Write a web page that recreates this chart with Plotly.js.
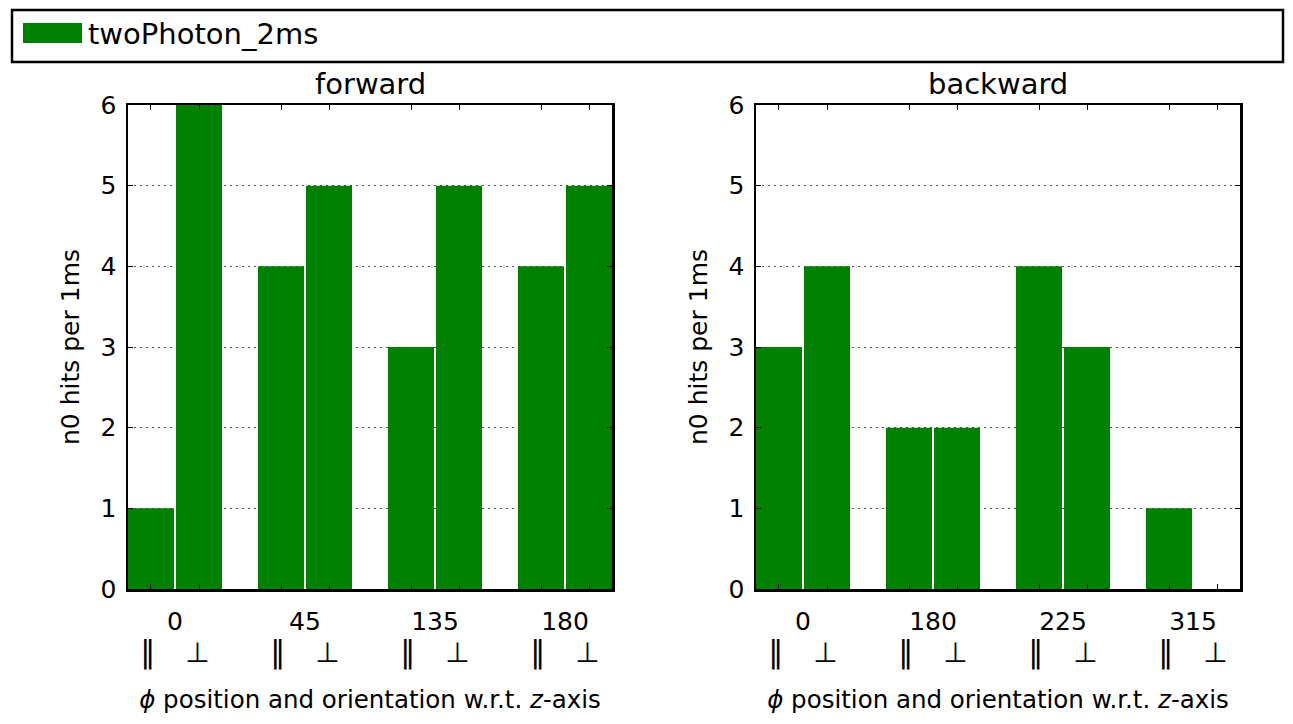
<!DOCTYPE html>
<html>
<head>
<meta charset="utf-8">
<script src="https://cdn.plot.ly/plotly-3.0.1.min.js"></script>
<style>html,body{margin:0;padding:0;background:#fff;}#chart{width:1293px;height:724px;}</style>
</head>
<body>
<div id="chart"></div>
<script>
// ---- data ----
const seriesName = 'twoPhoton_2ms';
const forwardPhi = ['0', '45', '135', '180'];
const forwardParallel = [1, 4, 3, 4];
const forwardPerp = [6, 5, 5, 5];
const backwardPhi = ['0', '180', '225', '315'];
const backwardParallel = [3, 2, 4, 1];
const backwardPerp = [4, 2, 3, 0];
const orientationLabels = ['‖', '⊥'];
const panelTitles = ['forward', 'backward'];

// ---- style ----
const GREEN = '#008000';
const FONT = 'DejaVu Sans, Liberation Sans, sans-serif';
const W = 1293, H = 724;
const BARGAP = 0.2615, BARGROUPGAP = 0.0417;

function groupIdx(arr) { return arr.map((_, i) => i); }
function barCenters(arr) {
  const half = (1 - BARGAP) / 4;
  const out = [];
  arr.forEach((_, i) => { out.push(i - half, i + half); });
  return out;
}
function tickTexts(phi) {
  return phi.map(p => p + '<br><span style="font-size:30px">' + orientationLabels[0] + '</span>\u2003\u2009' +
    '<span style="font-size:28px">' + orientationLabels[1] + '</span>');
}

const traces = [
  {type: 'bar', name: seriesName, x: groupIdx(forwardPhi), y: forwardParallel, xaxis: 'x', yaxis: 'y',
   marker: {color: GREEN, line: {width: 0}}, showlegend: false, hoverinfo: 'y'},
  {type: 'bar', name: seriesName, x: groupIdx(forwardPhi), y: forwardPerp, xaxis: 'x', yaxis: 'y',
   marker: {color: GREEN, line: {width: 0}}, showlegend: false, hoverinfo: 'y'},
  {type: 'bar', name: seriesName, x: groupIdx(backwardPhi), y: backwardParallel, xaxis: 'x2', yaxis: 'y2',
   marker: {color: GREEN, line: {width: 0}}, showlegend: false, hoverinfo: 'y'},
  {type: 'bar', name: seriesName, x: groupIdx(backwardPhi), y: backwardPerp, xaxis: 'x2', yaxis: 'y2',
   marker: {color: GREEN, line: {width: 0}}, showlegend: false, hoverinfo: 'y'}
];

const yDom = [1 - 589 / H, 1 - 105 / H];
function xAxis(domain, phi, anchor) {
  return {
    domain: domain, anchor: anchor,
    range: [-0.3615, phi.length - 1 + 0.3615],
    tickmode: 'array', tickvals: groupIdx(phi), ticktext: tickTexts(phi),
    ticks: '', showgrid: false, zeroline: false,
    showline: true, linecolor: '#000', linewidth: 2.5, mirror: 'ticks',
    tickfont: {family: FONT, size: 25, color: '#000'},
    ticklabelstandoff: 8,
    minor: {tickmode: 'array', tickvals: barCenters(phi), ticks: 'inside', ticklen: 5, tickwidth: 1, tickcolor: '#000', showgrid: false},
    title: {text: '<i>ϕ</i> position and orientation w.r.t. <i>z</i>-axis', font: {family: FONT, size: 24.5, color: '#000'}, standoff: 22},
    fixedrange: true
  };
}
function yAxis(anchor) {
  return {
    domain: yDom, anchor: anchor, range: [0, 6], dtick: 1, tick0: 0,
    ticks: 'inside', ticklen: 5, tickwidth: 1, tickcolor: '#000',
    showline: true, linecolor: '#000', linewidth: 2.5, mirror: 'ticks',
    showgrid: true, gridcolor: '#555', gridwidth: 1, griddash: '2px,4px',
    zeroline: false,
    tickfont: {family: FONT, size: 25, color: '#000'},
    ticklabelstandoff: 4,
    title: {text: 'n0 hits per 1ms', font: {family: FONT, size: 25, color: '#000'}, standoff: 14},
    fixedrange: true
  };
}

const xd1 = [128 / W, 612 / W], xd2 = [756 / W, 1240 / W];
const layout = {
  width: W, height: H,
  margin: {l: 0, r: 0, t: 0, b: 0},
  paper_bgcolor: '#fff', plot_bgcolor: '#fff',
  font: {family: FONT, color: '#000'},
  barmode: 'group', bargap: BARGAP, bargroupgap: BARGROUPGAP,
  showlegend: false,
  xaxis: xAxis(xd1, forwardPhi, 'y'),
  yaxis: yAxis('x'),
  xaxis2: xAxis(xd2, backwardPhi, 'y2'),
  yaxis2: yAxis('x2'),
  shapes: [
    {type: 'rect', xref: 'paper', yref: 'paper', x0: 12 / W, x1: 1283 / W, y0: 1 - 62 / H, y1: 1 - 10 / H,
     line: {color: '#000', width: 2.5}, fillcolor: 'rgba(0,0,0,0)'},
    {type: 'rect', xref: 'paper', yref: 'paper', x0: 23 / W, x1: 82 / W, y0: 1 - 43 / H, y1: 1 - 23 / H,
     line: {width: 0}, fillcolor: GREEN}
  ],
  annotations: [
    {text: seriesName, xref: 'paper', yref: 'paper', x: 86 / W, y: 1 - 34 / H, xanchor: 'left', yanchor: 'middle',
     showarrow: false, font: {family: FONT, size: 29, color: '#000'}},
    {text: panelTitles[0], xref: 'x domain', yref: 'y domain', x: 0.5, y: 1, xanchor: 'center', yanchor: 'bottom', yshift: 2,
     showarrow: false, font: {family: FONT, size: 29, color: '#000'}},
    {text: panelTitles[1], xref: 'x2 domain', yref: 'y2 domain', x: 0.5, y: 1, xanchor: 'center', yanchor: 'bottom', yshift: 2,
     showarrow: false, font: {family: FONT, size: 29, color: '#000'}}
  ]
};

Plotly.newPlot('chart', traces, layout, {staticPlot: true, displayModeBar: false});
</script>
</body>
</html>
